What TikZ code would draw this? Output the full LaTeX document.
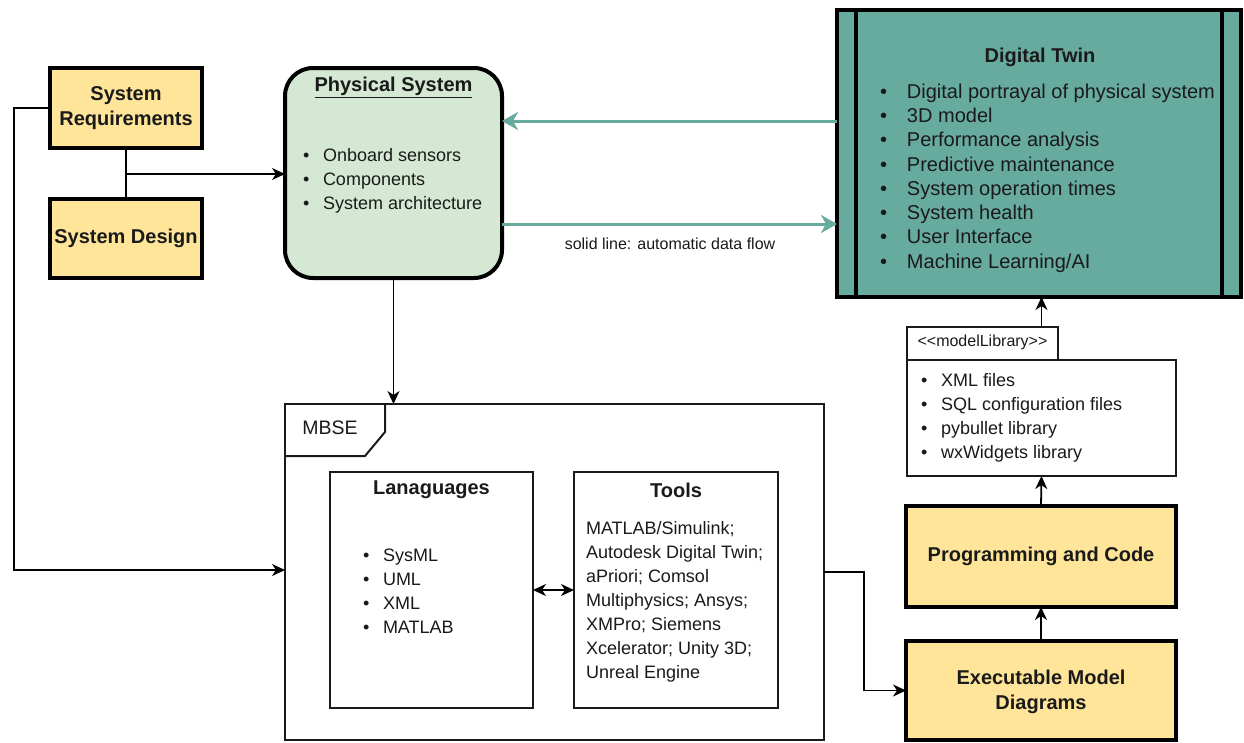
\documentclass[tikz,border=0pt]{standalone}
\usepackage{fontspec}
\setmainfont{Liberation Sans}
\usetikzlibrary{arrows.meta}
\definecolor{notefill}{HTML}{FFE599}
\definecolor{physfill}{HTML}{D5E8D4}
\definecolor{twinfill}{HTML}{67AB9F}
\definecolor{ink}{HTML}{1A1A1A}
% bullet item with a fixed indent
\newcommand{\itm}[2][20pt]{\makebox[#1][l]{•}#2}

\begin{document}
\begin{tikzpicture}[x=1pt,y=-1pt,
  every node/.style={inner sep=0pt, outer sep=0pt, text=ink},
  heavybox/.style={draw=black, line width=4pt, fill=notefill},
  framebox/.style={draw=ink, line width=2pt, fill=white},
  titletext/.style={font=\bfseries\fontsize{20}{25}\selectfont, align=center},
  bodytext/.style={font=\fontsize{18}{24}\selectfont, align=left},
  conn/.style={draw=black, line width=1.8pt, -{Stealth[length=13pt,width=12pt,inset=4pt]}},
  twoway/.style={draw=black, line width=1.8pt, {Stealth[length=13pt,width=12pt,inset=4pt]}-{Stealth[length=13pt,width=12pt,inset=4pt]}},
  plainline/.style={draw=black, line width=1.8pt},
  flow/.style={draw=twinfill, line width=3pt, -{Stealth[length=16pt,width=18pt,inset=5pt]}}
]
\useasboundingbox (0,0) rectangle (1244,742);
\fill[white] (0,0) rectangle (1244,742);

% ---- requirements and design ----
\node[heavybox, minimum width=152pt, minimum height=80pt] (sr) at (126,108) {};
\node[titletext] (srtext) at (126,108) {System\\Requirements};
\node[heavybox, minimum width=152pt, minimum height=79pt] (sd) at (126,238.5) {};
\node[titletext] (sdtext) at (126,238.5) {System Design};

% ---- physical system ----
\node[draw=black, line width=4pt, fill=physfill, rounded corners=28pt,
      minimum width=217pt, minimum height=210pt] (phys) at (393.5,173) {};
\node[titletext] (phystitle) at (393.5,87) {\underline{Physical System}};
\node[bodytext, anchor=west] (physlist) at (303,181)
  {\itm{Onboard sensors}\\ \itm{Components}\\ \itm{System architecture}};

% ---- digital twin ----
\node[draw=black, line width=4pt, fill=twinfill,
      minimum width=404pt, minimum height=287pt] (dt) at (1039,153.5) {};
\draw[line width=4pt] ([xshift=19pt]dt.north west) -- ([xshift=19pt]dt.south west);
\draw[line width=4pt] ([xshift=-19pt]dt.north east) -- ([xshift=-19pt]dt.south east);
\node[titletext] (dttitle) at (1040,57) {Digital Twin};
\node[font=\fontsize{20}{24.3}\selectfont, align=left, anchor=west] (dtlist) at (880,178)
  {\itm[27pt]{Digital portrayal of physical system}\\
   \itm[27pt]{3D model}\\
   \itm[27pt]{Performance analysis}\\
   \itm[27pt]{Predictive maintenance}\\
   \itm[27pt]{System operation times}\\
   \itm[27pt]{System health}\\
   \itm[27pt]{User Interface}\\
   \itm[27pt]{Machine Learning/AI}};

% ---- MBSE frame ----
\node[framebox, minimum width=539pt, minimum height=336pt] (mbse) at (554.5,572) {};
\draw[line width=2pt, draw=ink] ([yshift=-52pt]mbse.north west) -- ++(80,0) -- ++(20,-24) -- ++(0,-28);
\node[font=\fontsize{19.5}{24}\selectfont] (mbsetext) at (330,428) {MBSE};

\node[framebox, line width=2.5pt, minimum width=203pt, minimum height=236pt] (lang) at (431.5,590) {};
\node[titletext] (langtitle) at (431.5,490) {Lanaguages};
\node[bodytext, anchor=west] (langlist) at (363,591.5)
  {\itm{SysML}\\ \itm{UML}\\ \itm{XML}\\ \itm{MATLAB}};

\node[framebox, line width=2.5pt, minimum width=204pt, minimum height=236pt] (tools) at (676,590) {};
\node[titletext] (toolstitle) at (676,490) {Tools};
\node[bodytext, anchor=west] (toolslist) at (586,602)
  {MATLAB/Simulink;\\ Autodesk Digital Twin;\\ aPriori; Comsol\\ Multiphysics; Ansys;\\
   XMPro; Siemens\\ Xcelerator; Unity 3D;\\ Unreal Engine};

% ---- model library ----
\node[draw=ink, line width=1.5pt, fill=white, minimum width=151pt, minimum height=33pt] (tab) at (982.5,343.5) {};
\node[font=\fontsize{16}{20}\selectfont] (tabtext) at (982.5,342) {<{}<modelLibrary>{}>};
\node[draw=ink, line width=1.5pt, fill=white, minimum width=269pt, minimum height=116pt] (lib) at (1041.5,418) {};
\node[bodytext, anchor=west] (liblist) at (921,418)
  {\itm{XML files}\\ \itm{SQL configuration files}\\ \itm{pybullet library}\\ \itm{wxWidgets library}};

% ---- code and executable models ----
\node[heavybox, minimum width=270pt, minimum height=101pt] (prog) at (1041,556.5) {};
\node[titletext] (progtext) at (1041,556.5) {Programming and Code};
\node[heavybox, minimum width=270pt, minimum height=99pt] (exec) at (1041,690.5) {};
\node[titletext] (exectext) at (1041,691.5) {Executable Model\\Diagrams};

% ---- connectors ----
\draw[plainline] (sr.south) -- (sd.north);
\coordinate (join) at (126,174);
\draw[conn] (join) -- (join -| phys.west);
\draw[conn] (sr.west) -| (14,570) -- (mbse.west |- 14,570);
\draw[conn] (phys.south) -- (phys.south |- mbse.north);

\draw[flow] (dt.west |- 0,121) -- (phys.east |- 0,121);
\draw[flow] (phys.east |- 0,224) -- (dt.west |- 0,224);
\node[font=\fontsize{16}{20}\selectfont] (flowlabel) at (670,244) {solid line: automatic data flow};

\draw[twoway] (lang.east) -- (tools.west);
\draw[conn] (mbse.east) -- ++(40,0) |- (exec.west);
\draw[conn] (exec.north) -- (prog.south);
\draw[conn] (prog.north) -- (lib.north |- lib.south);
\draw[conn] (lib.north |- tab.north) -- (lib.north |- dt.south);
\end{tikzpicture}
\end{document}
